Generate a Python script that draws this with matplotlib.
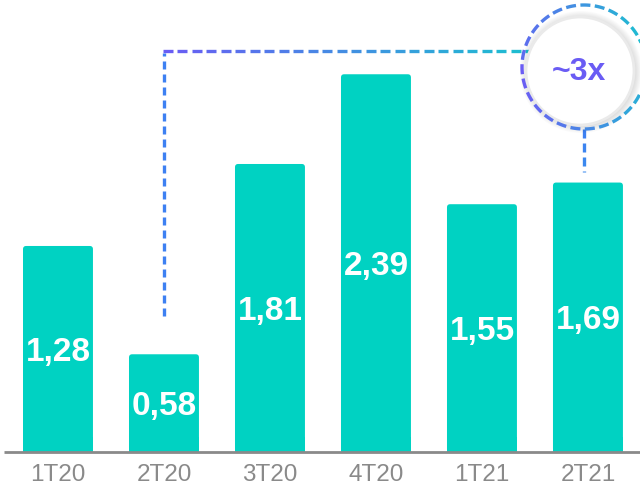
import numpy as np
import matplotlib.pyplot as plt
from matplotlib.collections import LineCollection
from matplotlib.colors import to_rgb
from matplotlib.patches import Circle, FancyBboxPatch

plt.rcParams["font.family"] = ["Liberation Sans", "DejaVu Sans"]

quarters = ["1T20", "2T20", "3T20", "4T20", "1T21", "2T21"]
values = [1.28, 0.58, 1.81, 2.39, 1.55, 1.69]
labels = ["1,28", "0,58", "1,81", "2,39", "1,55", "1,69"]
growth_label = "~3x"

bar_color = "#00D2C2"
purple = "#6A5CF4"
blue = "#3D80F2"
teal = "#1CC0D0"
axis_gray = "#8A8A8A"

W, H = 640, 486
fig = plt.figure(figsize=(W / 100, H / 100), dpi=100)
ax = fig.add_axes([0, 0, 1, 1])
ax.set_xlim(-0.547, 5.491)
ax.set_ylim(-0.2715, 2.870)
ax.axis("off")

base = -0.052
x = np.arange(len(quarters))
bars = ax.bar(x, np.array(values) - base, bottom=base, width=0.66,
              color=bar_color, alpha=0)
# rounded tops
for b in bars:
    ax.add_patch(FancyBboxPatch((b.get_x(), b.get_y()), b.get_width(), b.get_height(),
                                boxstyle="round,pad=0,rounding_size=0.03",
                                mutation_aspect=106 / 154.7,
                                facecolor=bar_color, edgecolor="none", zorder=2))
    ax.add_patch(FancyBboxPatch((b.get_x(), b.get_y()), b.get_width(), 0.1,
                                boxstyle="square,pad=0", facecolor=bar_color,
                                edgecolor="none", zorder=2))

for xi, v, lab in zip(x, values, labels):
    ax.text(xi, (v + base) / 2 - 0.02, lab, ha="center", va="center",
            color="white", fontsize=24, fontweight="bold", zorder=4)
    ax.text(xi, -0.13, quarters[xi], ha="center", va="top", color=axis_gray,
            fontsize=17.5, zorder=4)

ax.plot([-0.51, 5.491], [base, base], color=axis_gray, lw=2, zorder=3,
        solid_capstyle="butt")

# overlay in pixel coordinates for the connector and the badge
ov = fig.add_axes([0, 0, 1, 1])
ov.set_xlim(0, W)
ov.set_ylim(H, 0)
ov.axis("off")


def to_px(xd, yd):
    dx, dy = ax.transData.transform((xd, yd))
    return dx, H - dy


def dashes(points, c0, c1, dash, gap, lw):
    pts = np.array(points, float)
    seglen = np.hypot(*np.diff(pts, axis=0).T)
    total = seglen.sum()
    cum = np.concatenate([[0], np.cumsum(seglen)])

    def at(s):
        i = min(np.searchsorted(cum, s, side="right") - 1, len(seglen) - 1)
        t = (s - cum[i]) / seglen[i]
        return pts[i] + t * (pts[i + 1] - pts[i])

    segs, cols = [], []
    s = 0.0
    a, b = np.array(to_rgb(c0)), np.array(to_rgb(c1))
    while s < total:
        e = min(s + dash, total)
        segs.append([at(s), at(e)])
        f = ((s + e) / 2) / total
        cols.append(a + (b - a) * f)
        s += dash + gap
    ov.add_collection(LineCollection(segs, colors=cols, linewidths=lw,
                                     capstyle="butt", zorder=5))


x2, y2 = to_px(1, values[1] + 0.25)
cx, cy = 584, 67
r = 62
dashes([(x2, y2), (x2, 53)], blue, blue, 7.5, 5.5, 2.4)
dashes([(x2 - 1, 51), (cx - r + 8, 51)], purple, teal, 10, 4.5, 2.4)
x6, y6 = to_px(5, values[5] + 0.07)
dashes([(cx, cy + r), (cx, y6)], blue, "#3A8AEE", 9, 5, 2.4)

# badge shadow + white disk
for k in range(9, 0, -1):
    ov.add_patch(Circle((cx - 3, cy + 5), 53 + k * 0.9, facecolor="#000000",
                        alpha=0.016, edgecolor="none", zorder=6))
ov.add_patch(Circle((cx - 4, cy + 4), 54, facecolor="white",
                    edgecolor="#EAEAEA", lw=2, zorder=7))

# dashed ring with left-to-right gradient
segs, cols = [], []
n = int(2 * np.pi * r // 14)
a, b = np.array(to_rgb(purple)), np.array(to_rgb(teal))
for i in range(n):
    t0 = i * 2 * np.pi / n
    t1 = t0 + (10 / r)
    tt = np.linspace(t0, t1, 8)
    segs.append(np.column_stack([cx + r * np.cos(tt), cy + r * np.sin(tt)]))
    f = (np.cos((t0 + t1) / 2) + 1) / 2
    f = f * 0.85 + 0.15 * (np.sin((t0 + t1) / 2) < 0)
    cols.append(a + (b - a) * min(f, 1))
ov.add_collection(LineCollection(segs, colors=cols, linewidths=2.4,
                                 capstyle="butt", zorder=8))

ov.text(cx - 5, cy + 5, growth_label, ha="center", va="center", color=purple,
        fontsize=23, fontweight="bold", zorder=9)

fig.savefig("out.png", dpi=100)
